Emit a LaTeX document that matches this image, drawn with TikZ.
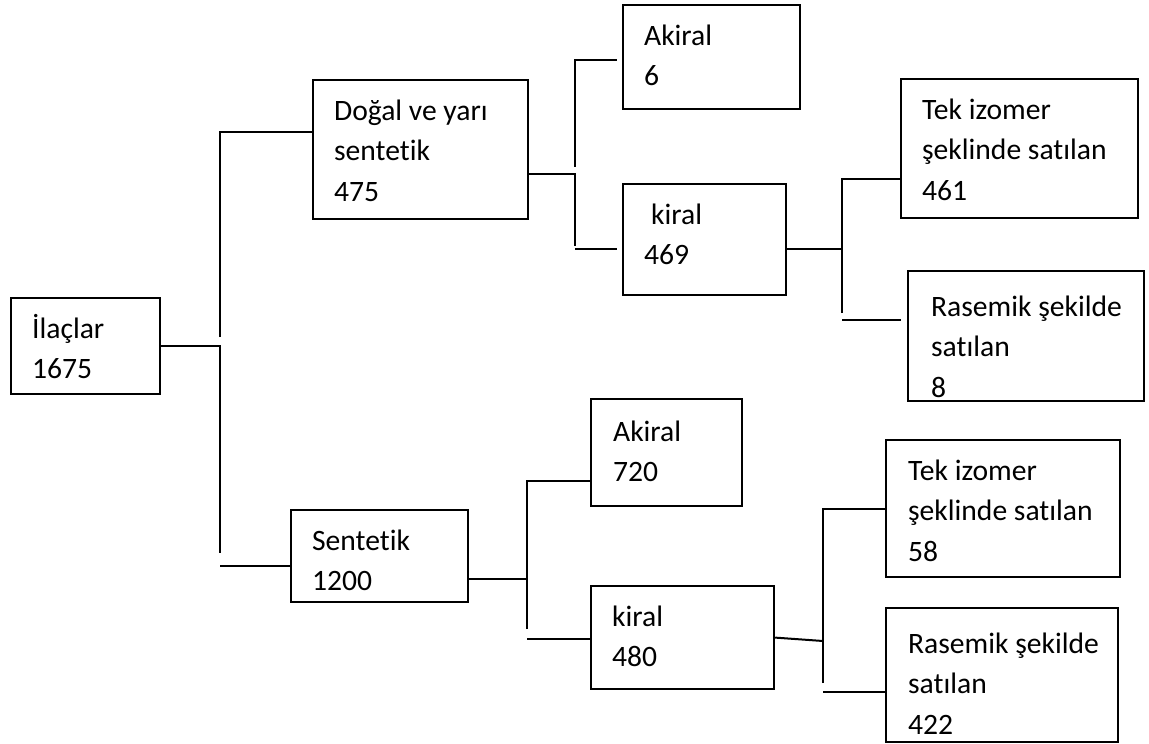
\documentclass[tikz,border=0pt]{standalone}
\usepackage{fontspec}
\setmainfont{Carlito}[Ligatures={NoCommon,NoContextual}]
\usetikzlibrary{calc}
\hyphenpenalty=10000
\exhyphenpenalty=10000

\begin{document}
\begin{tikzpicture}[x=0.5pt,y=-0.5pt,
    kutu/.style={draw,line width=1.1pt,anchor=north west,inner xsep=10.5pt,inner ysep=0pt,text height=20pt,
      font=\fontsize{14.8pt}{20.3pt}\selectfont,execute at begin node={\spaceskip=3.35pt\relax}},
    hat/.style={line width=1pt}]
  \useasboundingbox (0,0) rectangle (1149,743);
  % kutular
  \node[kutu,text width=53.5pt,text depth=28pt] (ilac) at (10,297) {İlaçlar\\1675};
  \node[kutu,text width=86.5pt,text depth=49.5pt] (dogal) at (312,79) {Doğal~ve~yarı\\sentetik\\475};
  \node[kutu,text width=67.5pt,text depth=32pt] (akiral1) at (622,4) {Akiral\\6};
  \node[kutu,text width=60.5pt,text depth=35.5pt] (kiral1) at (622,183) {\hspace*{3.5pt}kiral\\469};
  \node[kutu,text width=97.5pt,text depth=49.5pt] (tek1) at (900,78) {Tek~izomer\\şeklinde~satılan\\461};
  \node[kutu,inner xsep=11.5pt,text width=95pt,text height=22.5pt,text depth=42.5pt] (rasemik1) at (907,270) {Rasemik~şekilde\\satılan\\8};
  \node[kutu,text width=67.5pt,text depth=26pt] (sentetik) at (290,509) {Sentetik\\1200};
  \node[kutu,inner xsep=11pt,text width=53.5pt,text height=21pt,text depth=32.5pt] (akiral2) at (590,398) {Akiral\\720};
  \node[kutu,text width=70.5pt,text depth=31.5pt] (kiral2) at (590,585) {kiral\\480};
  \node[kutu,inner xsep=11pt,text width=95pt,text depth=48.5pt] (tek2) at (885,439) {Tek~izomer\\şeklinde~satılan\\58};
  \node[kutu,inner xsep=11pt,text width=94pt,text height=22.5pt,text depth=44.5pt] (rasemik2) at (885,607) {Rasemik~şekilde\\satılan\\422};

  % ilaclar
  \coordinate (a0) at (220,132);
  \coordinate (a1) at (220,337);
  \coordinate (a2) at (220,553);
  \coordinate (a3) at (220,566);
  \draw[hat] (ilac.east) -| (a2);
  \draw[hat] (a1) -- (a0) -- (a0 -| dogal.west);
  \draw[hat] (a3) -- (a3 -| sentetik.west);

  % dogal ve yari sentetik
  \coordinate (b0) at (575,60);
  \coordinate (b1) at (575,174);
  \coordinate (b2) at (575,167);
  \coordinate (b3) at (575,246);
  \coordinate (b4) at (575,249);
  \coordinate (b5) at (617,60);
  \coordinate (b6) at (617,249);
  \draw[hat] (b1 -| dogal.east) -- (b1) -- (b3);
  \draw[hat] (b2) -- (b0) -- (b5);
  \draw[hat] (b4) -- (b6);

  % kiral 469
  \coordinate (c0) at (842,179);
  \coordinate (c1) at (842,249);
  \coordinate (c2) at (842,313);
  \coordinate (c3) at (842,320);
  \coordinate (c4) at (901,320);
  \draw[hat] (c1 -| kiral1.east) -- (c1);
  \draw[hat] (c2) -- (c0) -- (c0 -| tek1.west);
  \draw[hat] (c3) -- (c4);

  % sentetik
  \coordinate (d0) at (527,481);
  \coordinate (d1) at (527,579);
  \coordinate (d2) at (527,629);
  \coordinate (d3) at (527,639);
  \draw[hat] (d1 -| sentetik.east) -- (d1);
  \draw[hat] (d2) -- (d0) -- (d0 -| akiral2.west);
  \draw[hat] (d3) -- (d3 -| kiral2.west);

  % kiral 480
  \coordinate (e0) at (823,509);
  \coordinate (e1) at (823,641);
  \coordinate (e2) at (823,683);
  \coordinate (e3) at (823,692);
  \draw[hat] (kiral2.east) -- (e1);
  \draw[hat] (e2) -- (e0) -- (e0 -| tek2.west);
  \draw[hat] (e3) -- (e3 -| rasemik2.west);
\end{tikzpicture}
\end{document}
